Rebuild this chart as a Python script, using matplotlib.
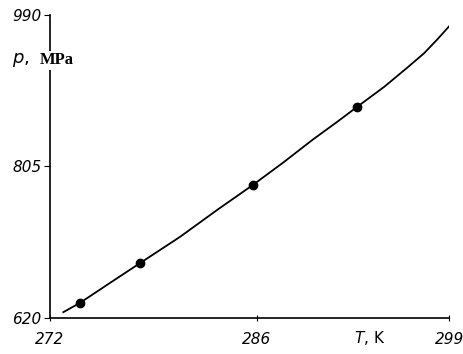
import matplotlib
matplotlib.use('Agg')
import matplotlib.pyplot as plt

# measured points (T, K vs p, MPa)
T_pts = [274.0, 278.1, 285.7, 292.8]
p_pts = [638, 687, 782, 878]

# curve
T_curve = [272.9, 274.0, 276.0, 278.1, 280.8, 283.4, 285.7, 287.8, 289.8, 291.4,
           292.8, 294.6, 296.2, 297.3, 298.2, 299.1]
p_curve = [627, 638, 662, 687, 719, 753, 782, 810, 838, 859,
           878, 902, 926, 943, 960, 978]

x_ticks = [272, 286, 299]
y_ticks = [620, 805, 990]

fig = plt.figure(figsize=(4.63, 3.54), dpi=100)
ax = fig.add_axes([0.108, 0.102, 0.862, 0.856])

ax.plot(T_curve, p_curve, color='black', lw=1.3)
ax.plot(T_pts, p_pts, 'o', color='black', ms=6)

ax.set_xlim(272, 299)
ax.set_ylim(620, 990)
ax.set_xticks(x_ticks)
ax.set_yticks(y_ticks)
ax.set_xticklabels([str(v) for v in x_ticks], fontstyle='italic', fontsize=11)
ax.set_yticklabels([str(v) for v in y_ticks], fontstyle='italic', fontsize=11)
ax.tick_params(axis='x', direction='inout', length=5, width=0.8, pad=8)
ax.tick_params(axis='y', direction='out', length=4, width=0.8, pad=2)

for s in ['top', 'right']:
    ax.spines[s].set_visible(False)
for s in ['left', 'bottom']:
    ax.spines[s].set_linewidth(1.2)

# axis labels
ax.text(0.025, 0.83, r'$p$,', transform=fig.transFigure, fontsize=13,
        va='center', ha='left', bbox=dict(facecolor='white', edgecolor='none', pad=1))
ax.text(0.085, 0.83, 'MPa', transform=fig.transFigure, fontsize=12, fontweight='bold',
        family='Liberation Serif', va='center', ha='left',
        bbox=dict(facecolor='white', edgecolor='none', pad=1))
ax.text(0.765, 0.045, r'$T$, K', transform=fig.transFigure, fontsize=11, va='center', ha='left')

fig.savefig('out.png', dpi=100)
